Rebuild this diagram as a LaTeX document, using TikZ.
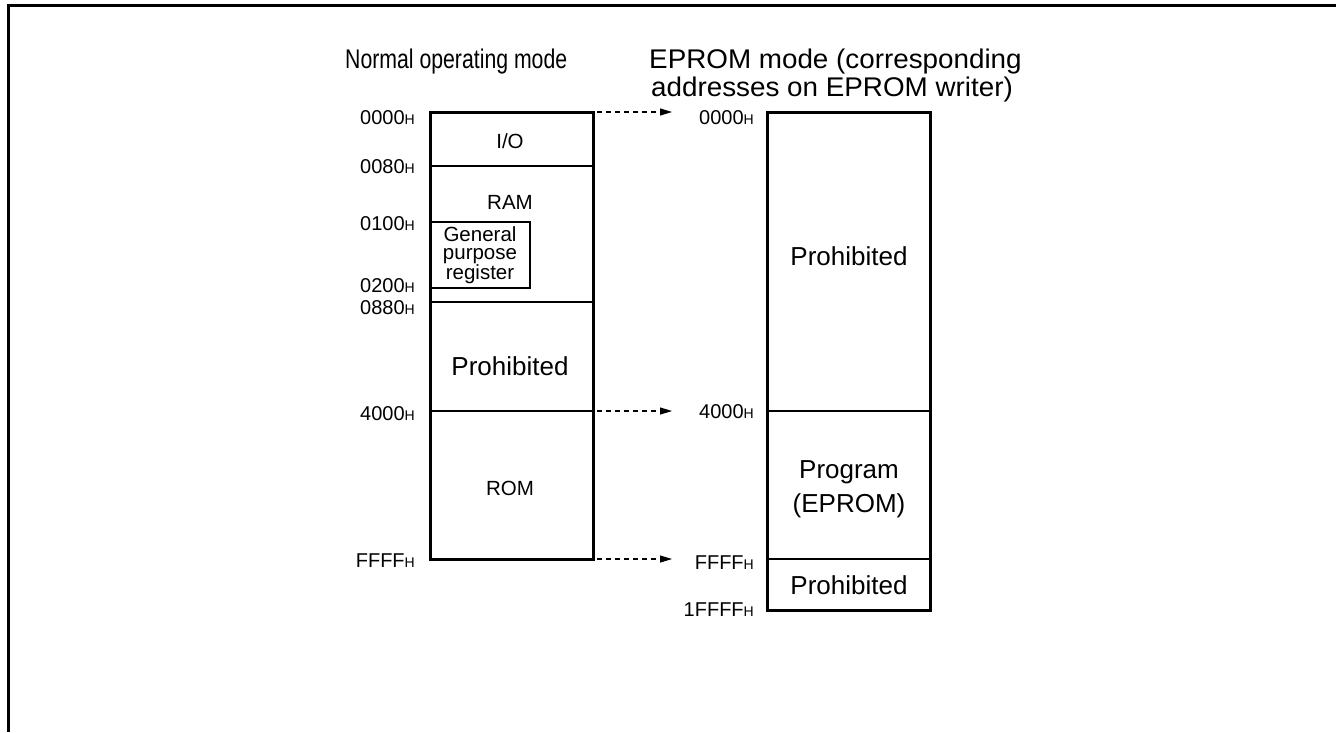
\documentclass[tikz,border=0pt]{standalone}
\usepackage{fontspec}
\usepackage{graphicx}
\setmainfont{Liberation Sans}
\usetikzlibrary{arrows.meta}
\newcommand\hsub{{\fontsize{14}{14}\selectfont H}}
\begin{document}
\begin{tikzpicture}[x=1pt,y=-1pt,
  addr/.style={anchor=base east, inner sep=0pt, font=\fontsize{20}{20}\selectfont},
  lbl/.style={inner sep=0pt, font=\fontsize{20.5}{20.5}\selectfont},
  gpr/.style={inner sep=0pt, align=center, font=\fontsize{20.5}{18}\selectfont},
  big/.style={inner sep=0pt, align=center, font=\fontsize{26}{34}\selectfont},
  ttl/.style={anchor=base west, inner sep=0pt, font=\fontsize{27}{28}\selectfont},
  outer/.style={line width=3pt},
  divline/.style={line width=1.5pt},
  thin/.style={line width=1.1pt},
  maparrow/.style={dash pattern=on 5pt off 4pt, line width=1.1pt, -{Triangle[length=12pt,width=7pt]}}]
\useasboundingbox (0,0) rectangle (1336,732);
% frame
\draw[line width=3pt] (8,732) -- (8,5) -- (1336,5);
% titles
\node[ttl] (t1) at (345,68) {\scalebox{0.787}[1]{Normal operating mode}};
\node[ttl] (t2) at (649,68) {\scalebox{1.03}[1]{EPROM mode (corresponding}};
\node[ttl] (t3) at (651,96) {\scalebox{1.03}[1]{addresses on EPROM writer)}};
% left memory map
\coordinate (LTL) at (430,112);
\coordinate (LBR) at (593,559);
\draw[divline] (430,166) -- (593,166);
\draw[divline] (430,302) -- (593,302);
\draw[divline] (430,411) -- (593,411);
\draw[thin] (431,222) rectangle (530,288);
\draw[outer] (LTL) rectangle (LBR);
\node[lbl] (io) at (510,141) {I/O};
\node[lbl] (ram) at (510,202) {RAM};
\node[gpr] (gp) at (480,255) {General\\purpose\\register};
\node[big] (lp) at (510,366) {Prohibited};
\node[lbl] (rom) at (510,488) {ROM};
% left addresses
\node[addr] (la1) at (415,124) {0000\hsub};
\node[addr] (la2) at (415,173) {0080\hsub};
\node[addr] (la3) at (415,230) {0100\hsub};
\node[addr] (la4) at (415,292) {0200\hsub};
\node[addr] (la5) at (415,314) {0880\hsub};
\node[addr] (la6) at (415,420) {4000\hsub};
\node[addr] (la7) at (415,567) {FFFF\hsub};
% right memory map
\coordinate (RTL) at (767,112);
\coordinate (RBR) at (930,610);
\draw[divline] (767,411) -- (930,411);
\draw[divline] (767,559) -- (930,559);
\draw[outer] (RTL) rectangle (RBR);
\node[big] (rp1) at (849,256) {Prohibited};
\node[big] (rpg) at (849,489) {Program\\(EPROM)};
\node[big] (rp2) at (849,585) {Prohibited};
% right addresses
\node[addr] (ra1) at (754,124) {0000\hsub};
\node[addr] (ra2) at (754,418) {4000\hsub};
\node[addr] (ra3) at (754,569) {FFFF\hsub};
\node[addr] (ra4) at (754,616) {1FFFF\hsub};
% mapping arrows
\coordinate (s1) at (597,112); \coordinate (e1) at (672,112);
\coordinate (s2) at (597,411); \coordinate (e2) at (672,411);
\coordinate (s3) at (597,559); \coordinate (e3) at (672,559);
\draw[maparrow] (s1) -- (e1);
\draw[maparrow] (s2) -- (e2);
\draw[maparrow] (s3) -- (e3);
\end{tikzpicture}
\end{document}
